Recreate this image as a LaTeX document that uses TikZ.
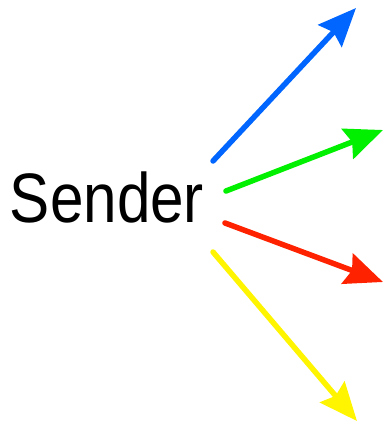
\documentclass[tikz,border=0pt]{standalone}
\usepackage{fontspec}
\setmainfont{Liberation Sans}
\usetikzlibrary{arrows.meta}
\definecolor{sblue}{RGB}{0,102,255}
\definecolor{sgreen}{RGB}{0,240,0}
\definecolor{sred}{RGB}{255,34,0}
\definecolor{syellow}{RGB}{255,245,0}
\begin{document}
\begin{tikzpicture}[x=1pt,y=-1pt,
  msg/.style={line width=5.5pt, line cap=round, -{Stealth[length=38pt,width=32pt,inset=5pt]}},
  label/.style={font=\fontsize{70}{70}\selectfont, inner sep=0pt, xscale=0.86, anchor=base}]
\useasboundingbox (0,0) rectangle (385,424);
\node[label] (sender) at (107,222) {Sender};
\coordinate (b0) at (213,161);
\coordinate (b1) at (356,8);
\coordinate (g0) at (226,191);
\coordinate (g1) at (383,130);
\coordinate (r0) at (225,223);
\coordinate (r1) at (383,282);
\coordinate (y0) at (213,252);
\coordinate (y1) at (357,421);
\draw[msg, sblue] (b0) -- (b1);
\draw[msg, sgreen] (g0) -- (g1);
\draw[msg, sred] (r0) -- (r1);
\draw[msg, syellow] (y0) -- (y1);
\end{tikzpicture}
\end{document}
